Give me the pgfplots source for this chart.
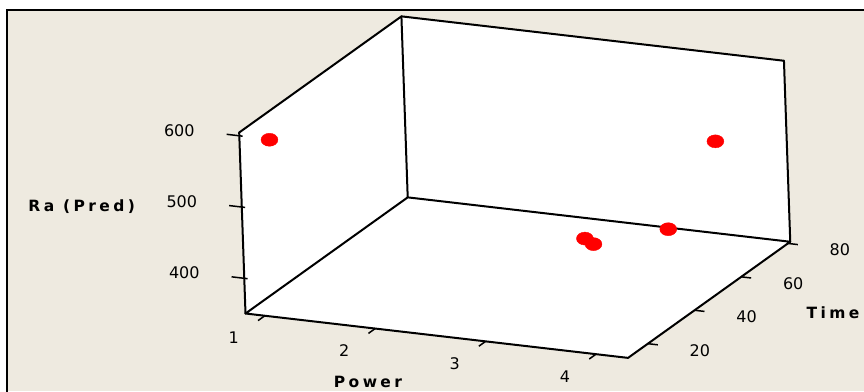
\documentclass[border=0pt]{standalone}
\usepackage{fontspec}
\setmainfont{DejaVu Sans}
\newfontfamily\labelfont[LetterSpace=22]{DejaVu Sans}
\usepackage{pgfplots}
\pgfplotsset{compat=1.18}

\pgfdeclarelayer{bg}
\pgfsetlayers{bg,main}

\definecolor{panel}{RGB}{238,234,224}

% axis limits: Power, Time, Ra (Pred)
\def\pmin{0.825}\def\pmax{4.29}
\def\tmin{11.5}\def\tmax{81}
\def\rmin{350.6}\def\rmax{604.6}

\newcommand\ticklab{\fontsize{16}{19}\selectfont}
\newcommand\axlab{\fontsize{15.5}{18}\selectfont\labelfont\bfseries}

\begin{document}
\begin{tikzpicture}
\begin{axis}[
  hide axis, clip=false,
  x={(110.4pt,-12.81pt)}, y={(2.334pt,1.671pt)}, z={(-0.0248pt,0.7126pt)},
  xmin=\pmin, xmax=\pmax, ymin=\tmin, ymax=\tmax, zmin=\rmin, zmax=\rmax,
]
\coordinate (A) at (\pmin,\tmin,\rmin);

% white panels: floor, left wall, back wall
\fill[white] (\pmin,\tmin,\rmin) -- (\pmax,\tmin,\rmin) -- (\pmax,\tmax,\rmin) -- (\pmin,\tmax,\rmin) -- cycle;
\fill[white] (\pmin,\tmin,\rmin) -- (\pmin,\tmax,\rmin) -- (\pmin,\tmax,\rmax) -- (\pmin,\tmin,\rmax) -- cycle;
\fill[white] (\pmin,\tmax,\rmin) -- (\pmax,\tmax,\rmin) -- (\pmax,\tmax,\rmax) -- (\pmin,\tmax,\rmax) -- cycle;

% box edges
\begin{scope}[line width=2pt, line join=round, line cap=round]
\draw (\pmin,\tmin,\rmin) -- (\pmax,\tmin,\rmin) -- (\pmax,\tmax,\rmin) -- (\pmin,\tmax,\rmin) -- cycle;
\draw (\pmin,\tmin,\rmin) -- (\pmin,\tmin,\rmax) -- (\pmin,\tmax,\rmax) -- (\pmax,\tmax,\rmax) -- (\pmax,\tmax,\rmin);
\draw (\pmin,\tmax,\rmin) -- (\pmin,\tmax,\rmax);
\end{scope}

% ticks
\begin{scope}[line width=1.5pt]
\draw (1,\tmin,\rmin) -- (1,8.6,\rmin);
\draw (2,\tmin,\rmin) -- (2,8.6,\rmin);
\draw (3,\tmin,\rmin) -- (3,8.6,\rmin);
\draw (4,\tmin,\rmin) -- (4,8.6,\rmin);
\draw (\pmax,20,\rmin) -- (4.38,20,\rmin);
\draw (\pmax,40,\rmin) -- (4.38,40,\rmin);
\draw (\pmax,60,\rmin) -- (4.38,60,\rmin);
\draw (\pmax,80,\rmin) -- (4.38,80,\rmin);
\draw (0.855,\tmin,400) -- (0.71,\tmin,400);
\draw (0.855,\tmin,500) -- (0.71,\tmin,500);
\draw (0.855,\tmin,600) -- (0.71,\tmin,600);
\end{scope}

% tick labels
\begin{scope}[every node/.style={font=\ticklab, inner sep=0pt}]
\node[xshift=-31pt, yshift=-22pt] at (1,\tmin,\rmin) {1};
\node[xshift=-31pt, yshift=-22pt] at (2,\tmin,\rmin) {2};
\node[xshift=-31pt, yshift=-22pt] at (3,\tmin,\rmin) {3};
\node[xshift=-31pt, yshift=-22pt] at (4,\tmin,\rmin) {4};
\node[xshift=52pt, yshift=-6.5pt] at (\pmax,20,\rmin) {20};
\node[xshift=52pt, yshift=-6.5pt] at (\pmax,40,\rmin) {40};
\node[xshift=52pt, yshift=-6.5pt] at (\pmax,60,\rmin) {60};
\node[xshift=52pt, yshift=-6.5pt] at (\pmax,80,\rmin) {80};
\node[xshift=-60pt, yshift=5.5pt] at (\pmin,\tmin,400) {400};
\node[xshift=-60pt, yshift=5.5pt] at (\pmin,\tmin,500) {500};
\node[xshift=-60pt, yshift=5.5pt] at (\pmin,\tmin,600) {600};
\end{scope}

% axis titles
\begin{scope}[every node/.style={font=\axlab, inner sep=0pt, text depth=0pt}]
\node[xshift=-163.8pt, yshift=107.5pt] at (\pmin,\tmin,\rmin) {Ra (Pred)};
\node[xshift=122.5pt, yshift=-68.2pt] at (\pmin,\tmin,\rmin) {Power};
\node[xshift=587.5pt, yshift=0.7pt] at (\pmin,\tmin,\rmin) {Time};
\end{scope}

% predicted Ra at the design points (Power, Time, Ra)
\addplot3[only marks, mark=*, mark size=6.5pt, color=red,
  mark options={xscale=1.3, draw=none, fill=red}]
  coordinates {
    (1,16,587)
    (4,64.5,525)
    (3,54.5,394)
    (3,58,378)
    (3.5,66.5,388)
  };
\end{axis}

\begin{pgfonlayer}{bg}
\fill[white, shift={(A)}] (-245.5pt,-77.5pt) rectangle (618.5pt,313.5pt);
\fill[panel, shift={(A)}] (-238.3pt,-77.5pt) rectangle (618.5pt,303.3pt);
\draw[black, line width=2.3pt, shift={(A)}] (-238.3pt,-78pt) -- (-238.3pt,303.3pt) -- (619pt,303.3pt);
\end{pgfonlayer}

\pgfresetboundingbox
\path[use as bounding box, shift={(A)}] (-245.5pt,-77.5pt) rectangle (618.5pt,313.5pt);
\end{tikzpicture}
\end{document}
